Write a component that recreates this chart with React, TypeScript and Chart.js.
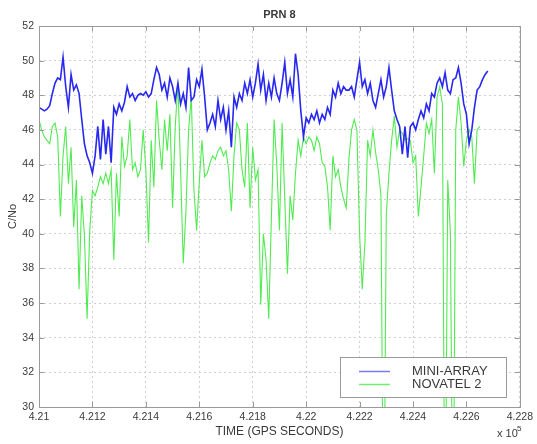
import React, { useEffect, useRef } from "react";
import { Chart, registerables } from "chart.js";

Chart.register(...registerables);

const TITLE = "PRN 8";
const X_LABEL = "TIME (GPS SECONDS)";
const Y_LABEL = "C/No";
const X_EXP_BASE = "x 10";
const X_EXP = "5";
const SERIES_NAMES = ["MINI-ARRAY", "NOVATEL 2"];

// GPS time in seconds
const TIME_S = [
  421000, 421010, 421020, 421030, 421040, 421050, 421060, 421070, 421080, 421090,
  421100, 421110, 421120, 421130, 421140, 421150, 421160, 421170, 421180, 421190,
  421200, 421210, 421220, 421230, 421240, 421250, 421260, 421270, 421280, 421290,
  421300, 421310, 421320, 421330, 421340, 421350, 421360, 421370, 421380, 421390,
  421400, 421410, 421420, 421430, 421440, 421450, 421460, 421470, 421480, 421490,
  421500, 421510, 421520, 421530, 421540, 421550, 421560, 421570, 421580, 421590,
  421600, 421610, 421620, 421630, 421640, 421650, 421660, 421670, 421680, 421690,
  421700, 421710, 421720, 421730, 421740, 421750, 421760, 421770, 421780, 421790,
  421800, 421810, 421820, 421830, 421840, 421850, 421860, 421870, 421880, 421890,
  421900, 421910, 421920, 421930, 421940, 421950, 421960, 421970, 421980, 421990,
  422000, 422010, 422020, 422030, 422040, 422050, 422060, 422070, 422080, 422090,
  422100, 422110, 422120, 422130, 422140, 422150, 422160, 422170, 422180, 422190,
  422200, 422210, 422220, 422230, 422240, 422250, 422260, 422270, 422280, 422290,
  422300, 422310, 422320, 422330, 422340, 422350, 422360, 422370, 422380, 422390,
  422400, 422410, 422420, 422430, 422440, 422450, 422460, 422470, 422480, 422490,
  422500, 422510, 422520, 422530, 422540, 422550, 422560, 422570, 422580, 422590,
  422600, 422610, 422620, 422630, 422640, 422650, 422660, 422670, 422680,
];

const MINI_ARRAY = [
  47.3, 47.2, 47.1, 47.2, 47.4, 48.1, 48.7, 49.0, 48.9, 50.2,
  48.5, 47.3, 49.2, 48.3, 48.6, 48.1, 46.6, 45.2, 44.5, 44.1,
  43.5, 44.5, 46.2, 44.3, 46.6, 44.6, 46.2, 44.1, 47.3, 46.9,
  47.5, 47.1, 47.6, 48.5, 47.9, 48.1, 47.7, 48.0, 48.1, 48.0,
  48.2, 47.9, 48.1, 48.9, 49.6, 49.2, 48.3, 48.7, 47.9, 49.0,
  48.5, 47.7, 48.7, 47.5, 48.1, 47.3, 49.6, 47.7, 47.9, 48.9,
  48.5, 49.5, 47.9, 46.0, 46.4, 46.9, 46.2, 47.7, 46.6, 47.3,
  46.0, 47.1, 45.0, 47.9, 47.3, 48.1, 47.7, 48.7, 48.1, 48.9,
  47.9, 48.7, 49.8, 48.3, 49.2, 47.7, 48.7, 47.9, 49.0, 48.1,
  47.7, 48.7, 49.9, 48.1, 48.9, 47.9, 50.4, 49.2, 47.1, 45.6,
  46.7, 46.4, 46.9, 46.6, 47.1, 46.4, 46.9, 46.6, 47.3, 46.9,
  48.3, 47.9, 48.7, 48.1, 48.5, 48.3, 48.3, 48.5, 47.9, 48.9,
  49.9, 48.5, 48.9, 48.1, 48.7, 47.7, 47.3, 48.1, 48.9, 47.9,
  48.5, 49.6, 48.3, 47.1, 46.6, 46.2, 44.6, 46.2, 44.4, 46.2,
  46.4, 46.0, 46.6, 47.1, 46.7, 47.5, 47.1, 48.1, 47.9, 48.7,
  49.0, 48.5, 49.3, 48.3, 48.1, 48.9, 49.0, 49.6, 48.7, 47.5,
  46.9, 45.2, 46.0, 47.3, 48.3, 48.5, 48.9, 49.2, 49.4,
];

const NOVATEL_2 = [
  46.6, 46.0, 45.6, 45.4, 45.2, 46.2, 46.4, 45.6, 41.0, 44.5,
  46.2, 42.9, 45.0, 40.4, 43.1, 36.8, 42.2, 39.9, 35.1, 40.2,
  42.5, 42.2, 42.7, 43.3, 42.9, 43.5, 42.9, 43.7, 38.5, 43.5,
  41.0, 45.6, 43.9, 44.5, 46.6, 43.7, 44.1, 43.3, 43.7, 46.0,
  43.7, 39.5, 45.4, 42.7, 47.7, 45.4, 43.7, 46.6, 44.8, 46.9,
  41.5, 46.2, 48.7, 43.7, 38.3, 41.3, 46.0, 47.9, 42.5, 40.2,
  43.0, 45.4, 43.3, 43.5, 44.1, 44.5, 44.3, 44.8, 45.0, 44.5,
  44.8, 43.7, 41.3, 44.5, 46.4, 46.0, 43.7, 42.7, 46.4, 41.5,
  45.0, 43.1, 43.7, 35.9, 40.0, 38.5, 35.1, 41.0, 46.6, 44.0,
  40.2, 46.4, 42.0, 37.7, 42.2, 40.8, 43.5, 45.4, 44.5, 45.6,
  45.2, 45.6, 45.4, 44.8, 45.6, 45.2, 44.1, 43.9, 42.7, 40.2,
  44.5, 43.3, 43.7, 42.7, 42.0, 41.5, 44.3, 46.0, 46.6, 46.0,
  40.0, 36.8, 39.5, 45.4, 44.5, 46.0, 44.7, 43.7, 42.2, 20.0,
  41.1, 43.5, 45.4, 46.8, 45.0, 46.0, 45.8, 45.4, 45.5, 45.4,
  44.1, 44.5, 41.0, 42.7, 44.5, 46.4, 45.8, 46.6, 43.5, 47.9,
  48.5, 47.5, 20.0, 43.1, 40.0, 20.0, 46.0, 47.9, 46.4, 43.9,
  45.4, 46.0, 45.6, 42.9, 46.0, 46.2,
];

const X_MIN = 421000;
const X_MAX = 422800;
const X_STEP = 200;
const Y_MIN = 30;
const Y_MAX = 52;
const Y_STEP = 2;

const COLORS = ["rgb(40,40,240)", "rgb(80,235,80)"];
const LEGEND_COLORS = ["rgb(120,120,250)", "rgb(110,240,110)"];
const FONT = "'Liberation Sans', Arial, Helvetica, sans-serif";
const TEXT_COLOR = "#3a3a3a";
const FRAME_COLOR = "#9a9a9a";

const framePlugin = {
  id: "matlabFrame",
  afterDatasetsDraw(chart: any) {
    const { ctx, chartArea } = chart;
    const { left, right, top, bottom } = chartArea;
    ctx.save();
    ctx.strokeStyle = FRAME_COLOR;
    ctx.lineWidth = 1;
    ctx.strokeRect(Math.round(left) + 0.5, Math.round(top) + 0.5, Math.round(right - left), Math.round(bottom - top));
    const xs = chart.scales.x;
    const ys = chart.scales.y;
    const tl = 5;
    ctx.beginPath();
    xs.ticks.forEach((t: any) => {
      const px = Math.round(xs.getPixelForValue(t.value)) + 0.5;
      ctx.moveTo(px, bottom);
      ctx.lineTo(px, bottom - tl);
      ctx.moveTo(px, top);
      ctx.lineTo(px, top + tl);
    });
    ys.ticks.forEach((t: any) => {
      const py = Math.round(ys.getPixelForValue(t.value)) + 0.5;
      ctx.moveTo(left, py);
      ctx.lineTo(left + tl, py);
      ctx.moveTo(right, py);
      ctx.lineTo(right - tl, py);
    });
    ctx.stroke();

    // legend box
    const lx = 340.5, ly = 357.5, lw = 166, lh = 40;
    ctx.fillStyle = "#ffffff";
    ctx.fillRect(lx, ly, lw, lh);
    ctx.strokeStyle = FRAME_COLOR;
    ctx.strokeRect(lx, ly, lw, lh);
    const rows = [371, 384];
    chart.data.datasets.forEach((ds: any, i: number) => {
      ctx.strokeStyle = LEGEND_COLORS[i];
      ctx.lineWidth = 1.5;
      ctx.beginPath();
      ctx.moveTo(359, rows[i] + 0.5);
      ctx.lineTo(390, rows[i] + 0.5);
      ctx.stroke();
      ctx.fillStyle = TEXT_COLOR;
      ctx.font = `13px ${FONT}`;
      ctx.textAlign = "left";
      ctx.textBaseline = "middle";
      ctx.fillText(ds.label, 412, rows[i]);
    });

    // title
    ctx.fillStyle = TEXT_COLOR;
    ctx.font = `bold 11px ${FONT}`;
    ctx.textAlign = "center";
    ctx.textBaseline = "middle";
    ctx.fillText(TITLE, (left + right) / 2, 15);

    // exponent label
    ctx.font = `11px ${FONT}`;
    ctx.textAlign = "left";
    ctx.fillText(X_EXP_BASE, 497, 434);
    ctx.font = `8px ${FONT}`;
    ctx.fillText(X_EXP, 517, 429);
    ctx.restore();
  },
};

export default function App() {
  const canvasRef = useRef<HTMLCanvasElement | null>(null);

  useEffect(() => {
    const canvas = canvasRef.current;
    if (!canvas) return;
    const chart = new Chart(canvas, {
      type: "line",
      data: {
        datasets: [
          {
            label: SERIES_NAMES[0],
            data: MINI_ARRAY.map((v, i) => ({ x: TIME_S[i], y: v })),
            borderColor: COLORS[0],
            borderWidth: 1.6,
            pointRadius: 0,
            tension: 0,
          },
          {
            label: SERIES_NAMES[1],
            data: NOVATEL_2.map((v, i) => ({ x: TIME_S[i], y: v })),
            borderColor: COLORS[1],
            borderWidth: 1.1,
            pointRadius: 0,
            tension: 0,
          },
        ],
      },
      options: {
        animation: false,
        responsive: false,
        devicePixelRatio: 1,
        layout: { padding: { left: 0, right: 14, top: 26, bottom: 0 } },
        plugins: {
          legend: { display: false },
          title: { display: false },
          tooltip: { enabled: false },
        },
        scales: {
          x: {
            type: "linear",
            min: X_MIN,
            max: X_MAX,
            afterFit: (s: any) => {
              s.height = 37;
            },
            ticks: {
              stepSize: X_STEP,
              autoSkip: false,
              maxRotation: 0,
              padding: 4,
              color: TEXT_COLOR,
              font: { family: FONT, size: 10.5 },
              callback: (v: any) => String(Number((Number(v) / 1e5).toFixed(3))),
            },
            grid: { color: "#cfcfcf", drawTicks: false, lineWidth: 1 },
            border: { display: false, dash: [2, 3] },
            title: {
              display: true,
              text: X_LABEL,
              color: TEXT_COLOR,
              font: { family: FONT, size: 12 },
              padding: { top: 0, bottom: 5 },
            },
          },
          y: {
            type: "linear",
            min: Y_MIN,
            max: Y_MAX,
            afterFit: (s: any) => {
              s.width = 39;
            },
            ticks: {
              stepSize: Y_STEP,
              padding: 5,
              color: TEXT_COLOR,
              font: { family: FONT, size: 10.5 },
            },
            grid: { color: "#cfcfcf", drawTicks: false, lineWidth: 1 },
            border: { display: false, dash: [2, 3] },
            title: {
              display: true,
              text: Y_LABEL,
              color: TEXT_COLOR,
              font: { family: FONT, size: 11 },
              padding: { top: 6, bottom: 0 },
            },
          },
        },
      },
      plugins: [framePlugin],
    } as any);
    return () => chart.destroy();
  }, []);

  return (
    <div style={{ position: "absolute", left: 0, top: 0, width: 537, height: 444, background: "#fff" }}>
      <canvas ref={canvasRef} width={537} height={444} style={{ display: "block" }} />
    </div>
  );
}
